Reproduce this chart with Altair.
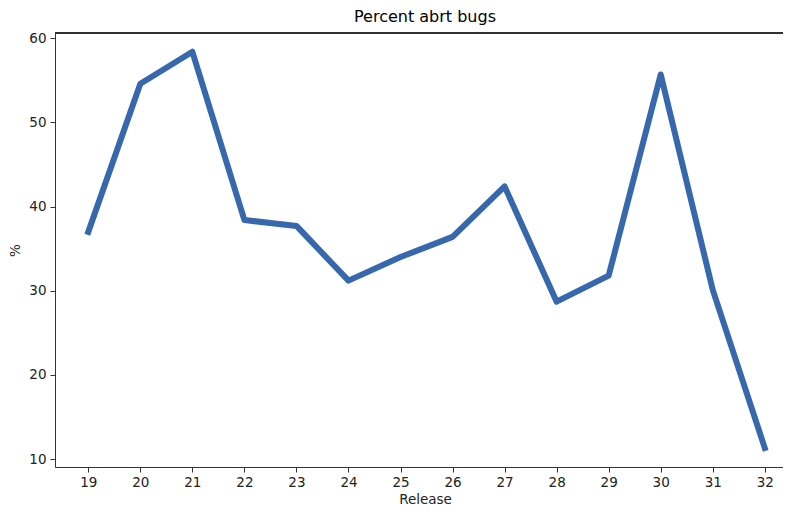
import altair as alt
import pandas as pd

releases = [19, 20, 21, 22, 23, 24, 25, 26, 27, 28, 29, 30, 31, 32]
percent = [37.0, 54.6, 58.4, 38.4, 37.7, 31.2, 34.0, 36.4, 42.4, 28.7, 31.8, 55.7, 30.1, 11.3]
x_ticks = releases
y_ticks = [10, 20, 30, 40, 50, 60]

df = pd.DataFrame({"Release": releases, "Percent": percent})

FONT = "DejaVu Sans"
TXT = "#222222"

line = alt.Chart(df).mark_line(
    color="#3767ad", strokeWidth=6, strokeCap="square", strokeJoin="round"
).encode(
    x=alt.X(
        "Release:Q",
        scale=alt.Scale(domain=[18.36, 32.35], nice=False, zero=False),
        axis=alt.Axis(
            values=x_ticks, title="Release", grid=False, tickSize=5,
            labelPadding=3, titlePadding=4, titleX=370, format="d",
            domainColor="#333333", tickColor="#333333",
        ),
    ),
    y=alt.Y(
        "Percent:Q",
        scale=alt.Scale(domain=[9.05, 60.63], nice=False, zero=False),
        axis=alt.Axis(
            values=y_ticks, title="%", grid=False, tickSize=5,
            labelPadding=4, titlePadding=6, format="d",
            domainColor="#333333", tickColor="#333333",
        ),
    ),
)

top = alt.Chart(df).mark_rule(color="#333333", strokeWidth=1).encode(
    x=alt.value(0), x2=alt.value(728), y=alt.value(0)
)

chart = alt.layer(line, top).properties(
    width=728,
    height=434,
    title=alt.TitleParams("Percent abrt bugs", fontSize=16, font=FONT,
                          fontWeight="normal", color="#000000", dx=6, offset=6),
    autosize=alt.AutoSizeParams(type="none"),
    padding={"left": 47, "top": 25, "right": 0, "bottom": 44},
).configure_view(stroke=None).configure_axis(
    labelFont=FONT, titleFont=FONT, labelFontSize=13.5, titleFontSize=13.5,
    labelColor=TXT, titleColor=TXT, titleFontWeight="normal",
)

chart.save("out.html", embed_options={"renderer": "svg", "actions": False})
